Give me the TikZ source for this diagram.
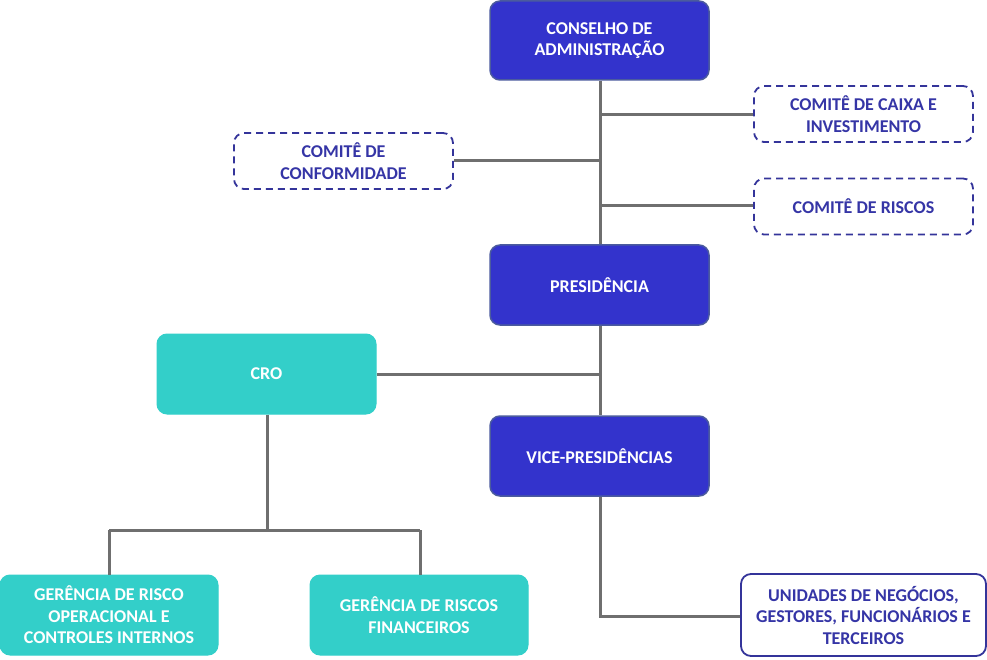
\documentclass[tikz,border=0pt]{standalone}
\usepackage{fontspec}
\setmainfont{Carlito}
\definecolor{bluebox}{HTML}{3333CC}
\definecolor{blueedge}{HTML}{4B5B9E}
\definecolor{turq}{HTML}{33CFC9}
\definecolor{dashcol}{HTML}{34349A}
\definecolor{txtblue}{HTML}{3535A6}
\definecolor{linegray}{HTML}{6F6F6F}
\tikzset{
  box/.style={rectangle, rounded corners=10pt, align=center, font=\bfseries\fontsize{18}{21.5}\selectfont, inner sep=0pt},
  bluenode/.style={box, fill=bluebox, draw=blueedge, line width=1.5pt, text=white},
  turqnode/.style={box, fill=turq, draw=turq, line width=1pt, text=white},
  dashnode/.style={box, fill=white, draw=dashcol, line width=1.8pt, dash pattern=on 7pt off 5pt, text=txtblue},
  solidnode/.style={box, fill=white, draw=dashcol, line width=1.8pt, text=txtblue},
  conn/.style={draw=linegray, line width=3pt}
}
\begin{document}
\begin{tikzpicture}[x=1pt,y=-1pt]
\useasboundingbox (0,0) rectangle (987,660);
\coordinate (t1) at (600,115);
\coordinate (t2) at (600,161);
\coordinate (t3) at (600,206);
\coordinate (t4) at (600,374);
\coordinate (c1) at (267,530);
\coordinate (c2) at (109,530);
\coordinate (c3) at (420,530);
\coordinate (v1) at (600,616);

\node[bluenode, minimum width=219pt, minimum height=79pt] (cons) at (599.5,40.5) {CONSELHO DE\\ADMINISTRAÇÃO};
\node[dashnode, minimum width=219pt, minimum height=56pt] (caixa) at (863.5,114) {COMITÊ DE CAIXA E\\INVESTIMENTO};
\node[dashnode, minimum width=219pt, minimum height=56pt] (riscos) at (863.5,206.5) {COMITÊ DE RISCOS};
\node[dashnode, minimum width=219pt, minimum height=56pt] (conf) at (343.5,161) {COMITÊ DE\\CONFORMIDADE};
\node[bluenode, minimum width=219pt, minimum height=80pt] (pres) at (599.5,285) {PRESIDÊNCIA};
\node[turqnode, minimum width=219pt, minimum height=80pt] (cro) at (266.5,374) {CRO};
\node[bluenode, minimum width=219pt, minimum height=80pt] (vice) at (599.5,456) {VICE-PRESIDÊNCIAS};
\node[turqnode, minimum width=218pt, minimum height=80pt] (gop) at (109,615) {GERÊNCIA DE RISCO\\OPERACIONAL E\\CONTROLES INTERNOS};
\node[turqnode, minimum width=218pt, minimum height=80pt] (gfin) at (419,615) {GERÊNCIA DE RISCOS\\FINANCEIROS};
\node[solidnode, minimum width=245pt, minimum height=82pt] (unid) at (863.5,615) {UNIDADES DE NEGÓCIOS,\\GESTORES, FUNCIONÁRIOS E\\TERCEIROS};

\draw[conn] (cons.south -| t1) -- (pres.north -| t1);
\draw[conn] (t1) -- (caixa.west |- t1);
\draw[conn] (t2) -- (conf.east |- t2);
\draw[conn] (t3) -- (riscos.west |- t3);
\draw[conn] (pres.south -| t4) -- (vice.north -| t4);
\draw[conn] (t4) -- (cro.east |- t4);
\draw[conn] (cro.south -| c1) -- (c1);
\draw[conn] (c2) -- (c3);
\draw[conn] (c2) -- (gop.north -| c2);
\draw[conn] (c3) -- (gfin.north -| c3);
\draw[conn] (vice.south -| v1) -- (v1) -- (unid.west |- v1);
\end{tikzpicture}
\end{document}
